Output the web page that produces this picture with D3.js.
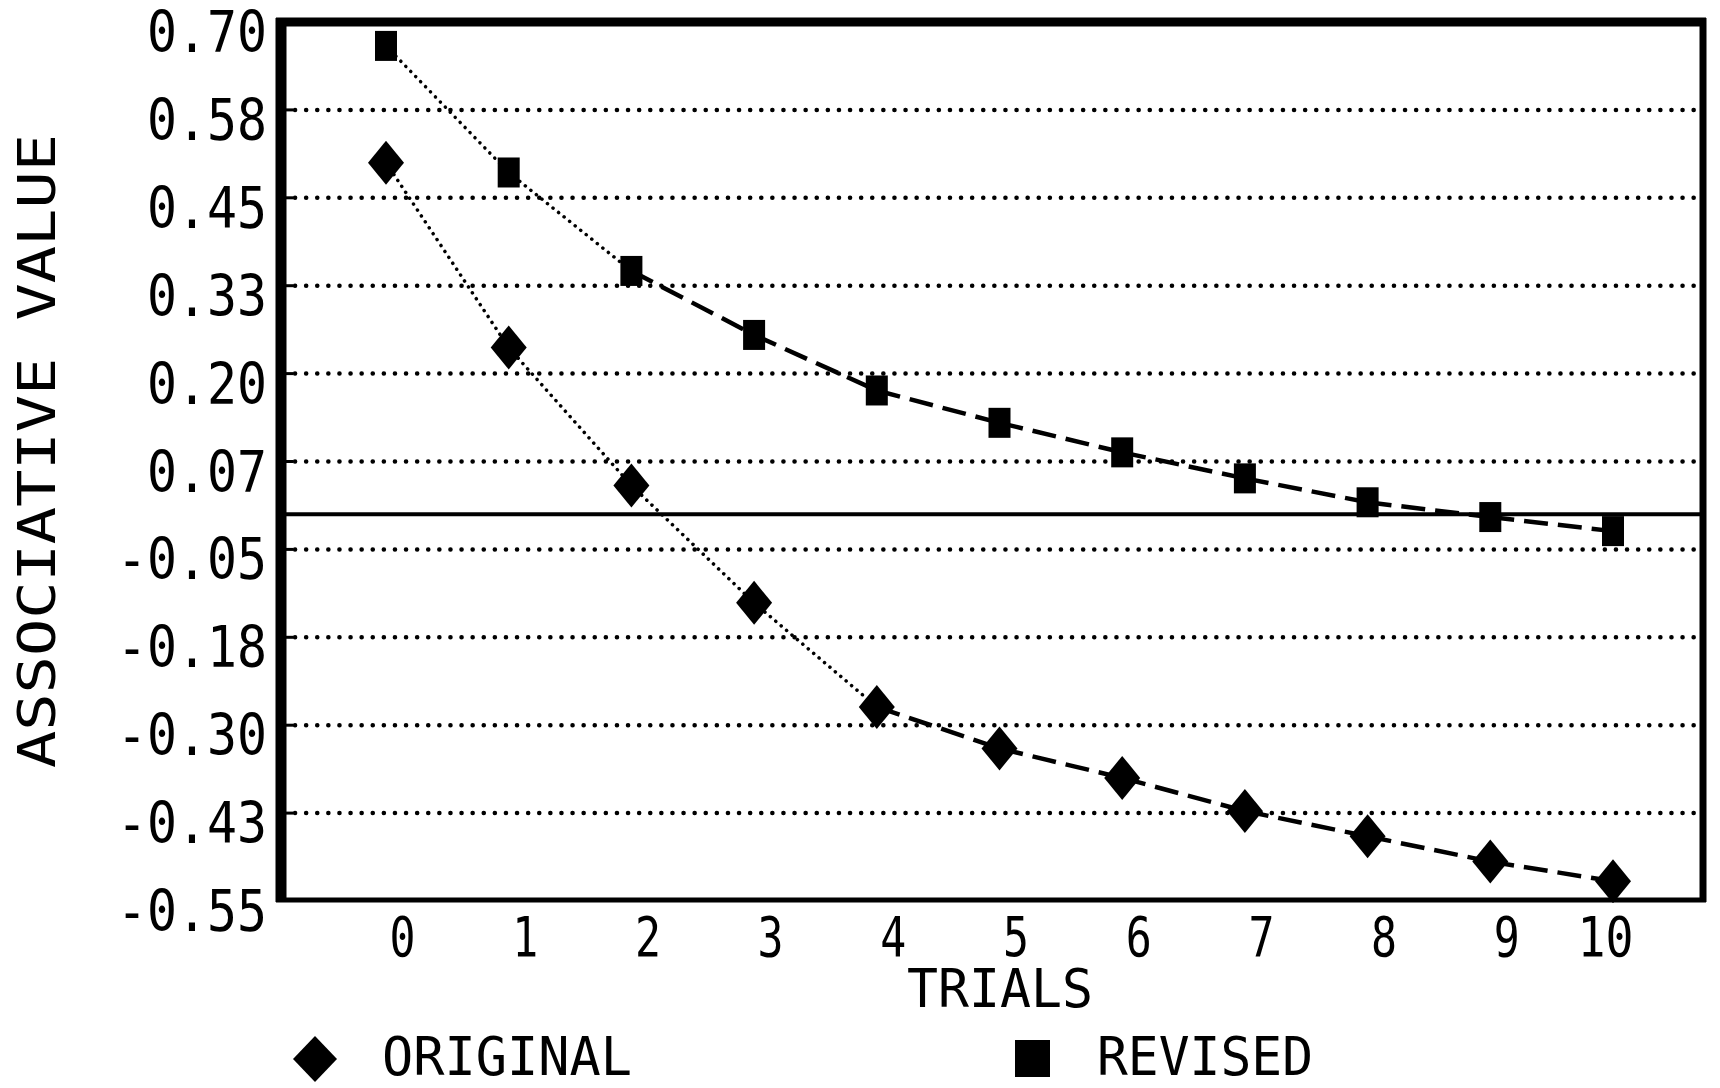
<!DOCTYPE html>
<html>
<head>
<meta charset="utf-8">
<script src="https://cdn.jsdelivr.net/npm/d3@7"></script>
<style>
  body { margin: 0; background: #fff; }
  svg text { font-family: "DejaVu Sans Mono", monospace; fill: #000; }
</style>
</head>
<body>
<div id="chart"></div>
<script>
// values
const trials = [0, 1, 2, 3, 4, 5, 6, 7, 8, 9, 10];
const original = [0.50, 0.237, 0.041, -0.126, -0.274, -0.333, -0.375, -0.422, -0.458, -0.494, -0.522];
const revised = [0.666, 0.486, 0.346, 0.255, 0.176, 0.130, 0.088, 0.051, 0.017, -0.004, -0.024];

const yTicks = [0.70, 0.575, 0.45, 0.325, 0.20, 0.075, -0.05, -0.175, -0.30, -0.425, -0.55];
const yLabels = ["0.70", "0.58", "0.45", "0.33", "0.20", "0.07", "-0.05", "-0.18", "-0.30", "-0.43", "-0.55"];

const width = 1720;
const height = 1088;

const svg = d3.select("#chart")
  .append("svg")
  .attr("width", width)
  .attr("height", height);

const frame = { left: 281, right: 1703, top: 22, bottom: 900 };

const x = d3.scaleLinear()
  .domain([0, 10])
  .range([386, 1613]);

const y = d3.scaleLinear()
  .domain([-0.55, 0.70])
  .range([901, 22]);

const charW = 30;

// dotted grid lines
svg.append("g")
  .selectAll("line")
  .data(yTicks.slice(1, -1))
  .enter()
  .append("line")
  .attr("x1", frame.left + 14)
  .attr("x2", frame.right - 8)
  .attr("y1", d => y(d))
  .attr("y2", d => y(d))
  .attr("stroke", "#000")
  .attr("stroke-width", 4.5)
  .attr("stroke-linecap", "round")
  .attr("stroke-dasharray", "0.1,11");

// little solid stubs at the frame
svg.append("g")
  .selectAll("line")
  .data(yTicks.slice(1, -1))
  .enter()
  .append("line")
  .attr("x1", frame.left)
  .attr("x2", frame.left + 12)
  .attr("y1", d => y(d))
  .attr("y2", d => y(d))
  .attr("stroke", "#000")
  .attr("stroke-width", 3);

// zero line
svg.append("line")
  .attr("x1", frame.left)
  .attr("x2", frame.right)
  .attr("y1", y(0))
  .attr("y2", y(0))
  .attr("stroke", "#000")
  .attr("stroke-width", 4);

// frame, heavier on the left and top like the plotter output
const frameSides = [
  [frame.left, frame.top - 4, frame.left, frame.bottom + 2, 11],
  [frame.left - 5, frame.top, frame.right + 3, frame.top, 9],
  [frame.right, frame.top - 4, frame.right, frame.bottom + 2, 7],
  [frame.left - 5, frame.bottom, frame.right + 3, frame.bottom, 5]
];
svg.append("g")
  .selectAll("line")
  .data(frameSides)
  .enter()
  .append("line")
  .attr("x1", d => d[0]).attr("y1", d => d[1])
  .attr("x2", d => d[2]).attr("y2", d => d[3])
  .attr("stroke", "#000")
  .attr("stroke-width", d => d[4]);

// y axis labels
const yAxis = svg.append("g")
  .attr("transform", `translate(${frame.left},0)`)
  .call(d3.axisLeft(y).tickValues(yTicks).tickFormat((d, i) => yLabels[i]).tickSize(0).tickPadding(14));
yAxis.select(".domain").remove();
yAxis.selectAll("text")
  .attr("font-size", 57)
  .attr("font-family", "DejaVu Sans Mono")
  .attr("dy", "0.36em")
  .attr("y", 9)
  .attr("textLength", (d, i) => yLabels[i].length * charW)
  .attr("lengthAdjust", "spacingAndGlyphs");

// x axis labels
const xAxis = svg.append("g")
  .attr("transform", `translate(0,${frame.bottom})`)
  .call(d3.axisBottom(x).tickValues(trials).tickFormat(d3.format("d")).tickSize(0));
xAxis.select(".domain").remove();
xAxis.selectAll("text")
  .attr("font-size", 55)
  .attr("font-family", "DejaVu Sans Mono")
  .attr("text-anchor", "end")
  .attr("x", d => d < 10 ? 29 : 20)
  .attr("y", 36)
  .attr("dy", "0.36em")
  .attr("textLength", d => String(d).length * charW - 4)
  .attr("lengthAdjust", "spacingAndGlyphs");

// axis titles
svg.append("text")
  .attr("x", 1000)
  .attr("y", 988)
  .attr("dy", "0.36em")
  .attr("text-anchor", "middle")
  .attr("font-size", 53)
  .attr("textLength", 186)
  .attr("lengthAdjust", "spacingAndGlyphs")
  .text("TRIALS");

svg.append("text")
  .attr("transform", "translate(37,451) rotate(-90)")
  .attr("dy", "0.36em")
  .attr("text-anchor", "middle")
  .attr("font-size", 51)
  .attr("textLength", 634)
  .attr("lengthAdjust", "spacingAndGlyphs")
  .text("ASSOCIATIVE VALUE");

// connecting lines: steep pieces come out dotted, flat ones dashed
function drawSeries(values) {
  const segs = d3.pairs(trials.map((t, i) => [x(t), y(values[i])]));
  svg.append("g")
    .selectAll("line")
    .data(segs)
    .enter()
    .append("line")
    .attr("x1", d => d[0][0]).attr("y1", d => d[0][1])
    .attr("x2", d => d[1][0]).attr("y2", d => d[1][1])
    .attr("stroke", "#000")
    .each(function(d) {
      const slope = Math.abs((d[1][1] - d[0][1]) / (d[1][0] - d[0][0]));
      const steep = slope > 0.6;
      d3.select(this)
        .attr("stroke-width", steep ? 3.5 : 4.5)
        .attr("stroke-linecap", steep ? "round" : "butt")
        .attr("stroke-dasharray", steep ? "0.1,7" : "24,10");
    });
}

drawSeries(original);
drawSeries(revised);

const diamond = (cx, cy, w, h) => `M${cx},${cy - h}L${cx + w},${cy}L${cx},${cy + h}L${cx - w},${cy}Z`;

svg.append("g")
  .selectAll("path")
  .data(original)
  .enter()
  .append("path")
  .attr("d", (d, i) => diamond(x(trials[i]), y(d), 18, 22))
  .attr("fill", "#000");

svg.append("g")
  .selectAll("rect")
  .data(revised)
  .enter()
  .append("rect")
  .attr("x", (d, i) => x(trials[i]) - 11)
  .attr("y", d => y(d) - 15)
  .attr("width", 22)
  .attr("height", 30)
  .attr("fill", "#000");

// legend
svg.append("path")
  .attr("d", diamond(315, 1059, 22, 23))
  .attr("fill", "#000");
svg.append("text")
  .attr("x", 382)
  .attr("y", 1056)
  .attr("dy", "0.36em")
  .attr("font-size", 54)
  .attr("textLength", 250)
  .attr("lengthAdjust", "spacingAndGlyphs")
  .text("ORIGINAL");

svg.append("rect")
  .attr("x", 1015)
  .attr("y", 1040)
  .attr("width", 35)
  .attr("height", 37)
  .attr("fill", "#000");
svg.append("text")
  .attr("x", 1097)
  .attr("y", 1056)
  .attr("dy", "0.36em")
  .attr("font-size", 54)
  .attr("textLength", 216)
  .attr("lengthAdjust", "spacingAndGlyphs")
  .text("REVISED");
</script>
</body>
</html>
